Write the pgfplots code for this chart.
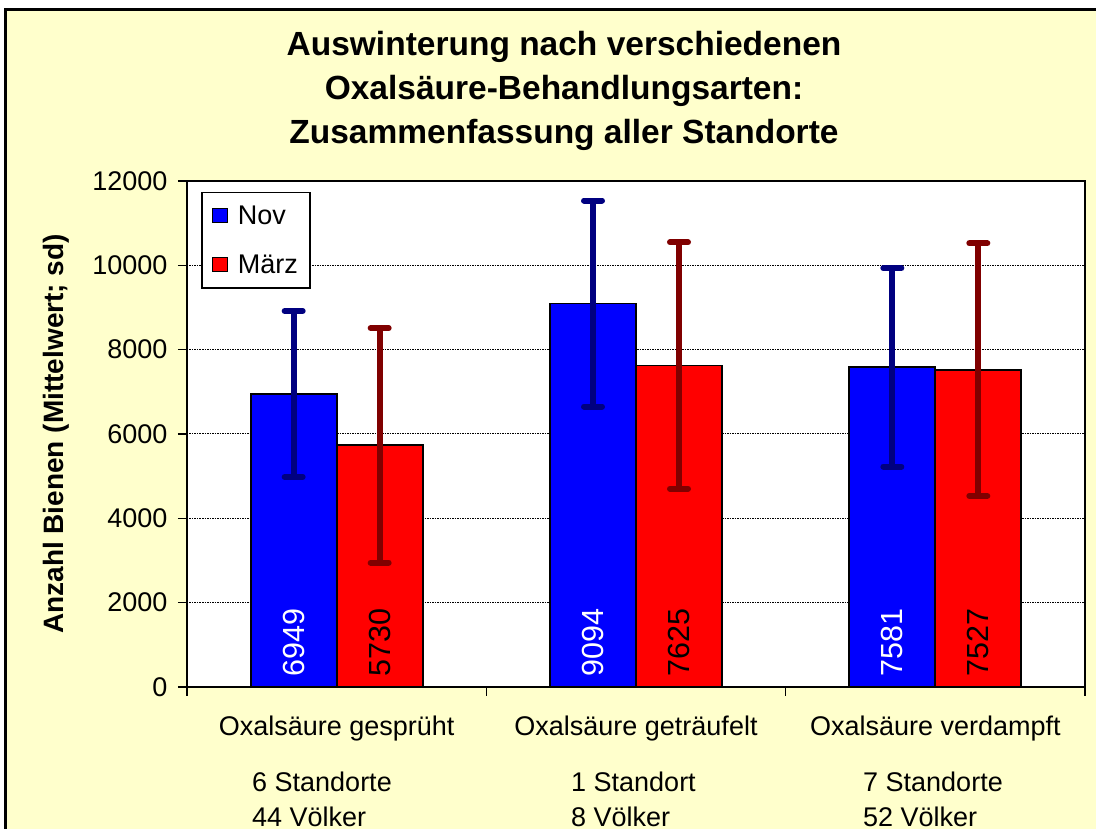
\documentclass[border=0pt]{standalone}
\usepackage{fontspec}
\setmainfont{Liberation Sans}
\usepackage{pgfplots}
\usepackage{pgfplotstable}
\pgfplotsset{compat=1.18}
\definecolor{bgyellow}{HTML}{FFFFCC}
\definecolor{novblue}{HTML}{0000FF}
\definecolor{maerzred}{HTML}{FF0000}
\definecolor{novdark}{HTML}{000080}
\definecolor{maerzdark}{HTML}{800000}

\pgfplotstableread{
x base nov novsd maerz maerzsd
0 0 6949 1968 5730 2782
1 0 9094 2443 7625 2921
2 0 7581 2352 7527 2996
}\datatable

\newcommand{\lblfont}{\fontsize{27}{32}\selectfont}

\begin{document}
\begin{tikzpicture}[x=1pt,y=1pt]
\useasboundingbox (0,0) rectangle (1096,829);
\fill[white] (0,0) rectangle (1096,829);
\begin{scope}
\clip (0,0) rectangle (1096,829);
\filldraw[fill=bgyellow, draw=black, line width=3pt] (5,-20) rectangle (1120,819);
\end{scope}
% title
\node[anchor=base, inner sep=0pt, font=\bfseries\fontsize{33.5}{40}\selectfont] at (564,773) {Auswinterung nach verschiedenen};
\node[anchor=base, inner sep=0pt, font=\bfseries\fontsize{33.5}{40}\selectfont] at (564,729) {Oxalsäure-Behandlungsarten:};
\node[anchor=base, inner sep=0pt, font=\bfseries\fontsize{33.5}{40}\selectfont] at (564,685) {Zusammenfassung aller Standorte};

\begin{axis}[
  at={(187pt,142pt)}, anchor=south west,
  width=898pt, height=506pt, scale only axis,
  ybar=0pt, bar width=86pt,
  xmin=-0.5, xmax=2.5, ymin=0, ymax=12000,
  ytick={0,2000,4000,6000,8000,10000,12000},
  xtick={-0.5,0.5,1.5,2.5},
  x tick label as interval,
  xticklabels={Oxalsäure gesprüht, Oxalsäure geträufelt, Oxalsäure verdampft},
  xtick pos=bottom, ytick pos=left,
  tick align=outside,
  major tick length=9pt,
  every tick/.style={black, line width=1.5pt},
  axis line style={black, line width=2pt},
  axis background/.style={fill=white},
  ymajorgrids,
  major grid style={black, line width=1pt, dash pattern=on 1.5pt off 1pt},
  scaled y ticks=false,
  /pgf/number format/1000 sep={},
  /pgf/number format/assume math mode=true,
  yticklabel style={font=\lblfont, anchor=east, xshift=-7pt},
  xticklabel style={font=\lblfont, anchor=base, yshift=-40pt},
  ylabel={Anzahl Bienen (Mittelwert; sd)},
  every axis y label/.style={at={(axis description cs:-0.146,0.5)}, rotate=90, anchor=center, font=\bfseries\fontsize{28}{32}\selectfont},
  legend style={at={(axis description cs:0.0156,0.9783)}, anchor=north west,
    draw=black, line width=1.5pt, fill=white, inner xsep=10pt, inner ysep=11pt,
    row sep=25pt, font=\lblfont, nodes={inner sep=2pt}, cells={anchor=west},
    /tikz/every odd column/.append style={column sep=8pt}},
  legend image code/.code={\draw[#1, draw=black, line width=1.2pt] (0pt,-7pt) rectangle (15pt,7pt);},
]
\addplot[fill=novblue, draw=black, line width=1.8pt,
  error bars/.cd, y dir=both, y explicit,
  error bar style={line width=6pt, novdark},
  error mark options={novdark, line width=6pt, line cap=round, mark size=9pt, rotate=90}]
  table[x=x, y=nov, y error=novsd] {\datatable};
\addplot[fill=maerzred, draw=black, line width=1.8pt,
  error bars/.cd, y dir=both, y explicit,
  error bar style={line width=6pt, maerzdark},
  error mark options={maerzdark, line width=6pt, line cap=round, mark size=9pt, rotate=90}]
  table[x=x, y=maerz, y error=maerzsd] {\datatable};
\legend{Nov, März}
% value labels inside bars
\addplot[forget plot, bar shift=-43pt, draw=none, fill=none,
  point meta=explicit, nodes near coords,
  every node near coord/.append style={rotate=90, anchor=west, font=\fontsize{30.5}{34}\selectfont, text=white, inner xsep=10pt}]
  table[x=x, y=base, meta=nov] {\datatable};
\addplot[forget plot, bar shift=43pt, draw=none, fill=none,
  point meta=explicit, nodes near coords,
  every node near coord/.append style={rotate=90, anchor=west, font=\fontsize{30.5}{34}\selectfont, text=black, inner xsep=10pt}]
  table[x=x, y=base, meta=maerz] {\datatable};
\end{axis}
% second and third line of the category labels
\node[anchor=base west, inner sep=0pt, font=\lblfont] at (252,37) {6 Standorte};
\node[anchor=base west, inner sep=0pt, font=\lblfont] at (252,2) {44 Völker};
\node[anchor=base west, inner sep=0pt, font=\lblfont] at (571,37) {1 Standort};
\node[anchor=base west, inner sep=0pt, font=\lblfont] at (571,2) {8 Völker};
\node[anchor=base west, inner sep=0pt, font=\lblfont] at (863,37) {7 Standorte};
\node[anchor=base west, inner sep=0pt, font=\lblfont] at (863,2) {52 Völker};
\end{tikzpicture}
\end{document}
